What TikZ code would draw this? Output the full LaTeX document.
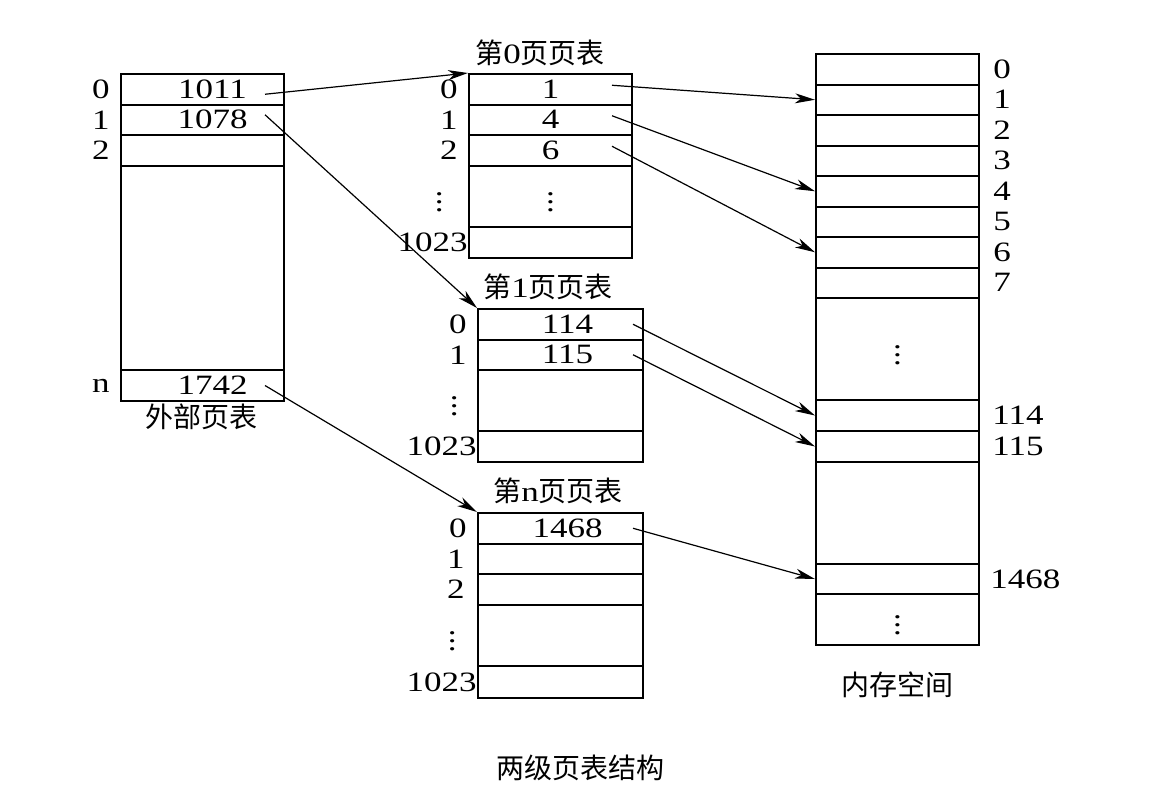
\documentclass[tikz,border=0pt]{standalone}
\usepackage{fontspec}
\setmainfont[FakeStretch=1.25]{Liberation Serif}
\newfontfamily\cjk{Noto Sans CJK SC}
\usetikzlibrary{positioning,arrows.meta}
\newcommand{\rowHeight}[0]{15.25pt}
\newcommand{\mapWidth}[0]{0.6pt}

\begin{document}
\begin{tikzpicture}[x=0.5pt, y=-0.5pt, font=\fontsize{14pt}{16pt}\selectfont]
  \tikzset{cell/.style={draw, line width=1pt, anchor=north west, inner sep=0pt,
                        minimum width=81.5pt, minimum height=\rowHeight},
           wide cell/.style={cell, minimum width=82.5pt},
           index/.style={inner sep=0pt},
           map/.style={line width=\mapWidth, -{Stealth[length=10pt,width=5pt,inset=3pt]}}}
  \useasboundingbox (0,0) rectangle (1149,810);
  % outer page table
  \node[cell] (OT-0) at (120,73) {\hspace*{10pt}1011};
  \node[cell] (OT-1) at (120,103.5) {\hspace*{10pt}1078};
  \node[cell] (OT-2) at (120,134) {};
  \node[cell, minimum height=102.25pt] (OT-gap) at (120,164.5) {};
  \node[cell, minimum height=15.5pt] (OT-n) at (120,369) {\hspace*{10pt}1742};
  \node[index, left=5pt of OT-0] (OT-0-i) {0};
  \node[index, left=5pt of OT-1] (OT-1-i) {1};
  \node[index, left=5pt of OT-2] (OT-2-i) {2};
  \node[index, left=5pt of OT-n] (OT-n-i) {n};
  \node (OT-name) at (201.5,417) {\cjk 外部页表};
  % page table 0
  \node (PT0-title) at (540,53) {{\cjk 第}0{\cjk 页页表}};
  \node[cell] (PT0-0) at (468,73) {1};
  \node[cell] (PT0-1) at (468,103.5) {4};
  \node[cell] (PT0-2) at (468,134) {6};
  \node[cell, minimum height=30.75pt] (PT0-gap) at (468,164.5) {$\vdots$};
  \node[cell, minimum height=15.5pt] (PT0-last) at (468,226) {};
  \node[index, left=5pt of PT0-0] (PT0-0-i) {0};
  \node[index, left=5pt of PT0-1] (PT0-1-i) {1};
  \node[index, left=5pt of PT0-2] (PT0-2-i) {2};
  \node[index, left=12pt of PT0-gap] (PT0-gap-i) {$\vdots$};
  \node[index, left=0pt of PT0-last] (PT0-last-i) {1023};
  % page table 1
  \node (PT1-title) at (548,287) {{\cjk 第}1{\cjk 页页表}};
  \node[wide cell] (PT1-0) at (477,308) {\hspace*{7pt}114};
  \node[wide cell] (PT1-1) at (477,338.5) {\hspace*{7pt}115};
  \node[wide cell, minimum height=30.5pt] (PT1-gap) at (477,369) {};
  \node[wide cell, minimum height=15.5pt] (PT1-last) at (477,430) {};
  \node[index, left=5pt of PT1-0] (PT1-0-i) {0};
  \node[index, left=5pt of PT1-1] (PT1-1-i) {1};
  \node[index, left=9pt of PT1-gap] (PT1-gap-i) {$\vdots$};
  \node[index, left=0pt of PT1-last] (PT1-last-i) {1023};
  % page table n
  \node (PTn-title) at (558,491) {{\cjk 第}n{\cjk 页页表}};
  \node[wide cell] (PTn-0) at (477,512) {\hspace*{7pt}1468};
  \node[wide cell] (PTn-1) at (477,542.5) {};
  \node[wide cell] (PTn-2) at (477,573) {};
  \node[wide cell, minimum height=30.75pt] (PTn-gap) at (477,603.5) {};
  \node[wide cell, minimum height=16pt] (PTn-last) at (477,665) {};
  \node[index, left=5pt of PTn-0] (PTn-0-i) {0};
  \node[index, left=6pt of PTn-1] (PTn-1-i) {1};
  \node[index, left=6pt of PTn-2] (PTn-2-i) {2};
  \node[index, left=10pt of PTn-gap] (PTn-gap-i) {$\vdots$};
  \node[index, left=0pt of PTn-last] (PTn-last-i) {1023};
  % memory
  \foreach \i in {0,...,7} {
    \node[cell] (Mem-\i) at (815,{53+30.5*\i}) {};
    \node[index, right=6.5pt of Mem-\i] (Mem-\i-i) {\i};
  }
  \node[cell, minimum height=51pt] (Mem-dots) at (815,297) {$\vdots$};
  \node[cell, minimum height=15.5pt] (Mem-114) at (815,399) {};
  \node[cell, minimum height=15.5pt] (Mem-115) at (815,430) {};
  \node[cell, minimum height=51pt] (Mem-gap) at (815,461) {};
  \node[cell, minimum height=15pt] (Mem-1468) at (815,563) {};
  \node[cell, minimum height=25.5pt] (Mem-end) at (815,593) {$\vdots$};
  \node[index, right=6pt of Mem-114] (Mem-114-i) {114};
  \node[index, right=6pt of Mem-115] (Mem-115-i) {115};
  \node[index, right=5pt of Mem-1468] (Mem-1468-i) {1468};
  \node (Mem-name) at (897,685) {\cjk 内存空间};
  \node (caption) at (580,768) {\cjk 两级页表结构};
  % mappings
  \draw[map] ([xshift=-10pt,yshift=-2.5pt]OT-0.east) -- (PT0-0.north west);
  \draw[map] ([xshift=-10pt,yshift=2.5pt]OT-1.east) -- (PT1-0.north west);
  \draw[map] ([xshift=-10pt]OT-n.east) -- (PTn-0.north west);
  \draw[map] ([xshift=-10.5pt,yshift=2pt]PT0-0.east) -- (Mem-1.west);
  \draw[map] ([xshift=-10.5pt,yshift=2pt]PT0-1.east) -- (Mem-4.west);
  \draw[map] ([xshift=-10.5pt,yshift=2pt]PT0-2.east) -- (Mem-6.west);
  \draw[map] ([xshift=-5.5pt]PT1-0.east) -- (Mem-114.west);
  \draw[map] ([xshift=-5.5pt]PT1-1.east) -- (Mem-115.west);
  \draw[map] ([xshift=-5.5pt]PTn-0.east) -- (Mem-1468.west);
\end{tikzpicture}
\end{document}
